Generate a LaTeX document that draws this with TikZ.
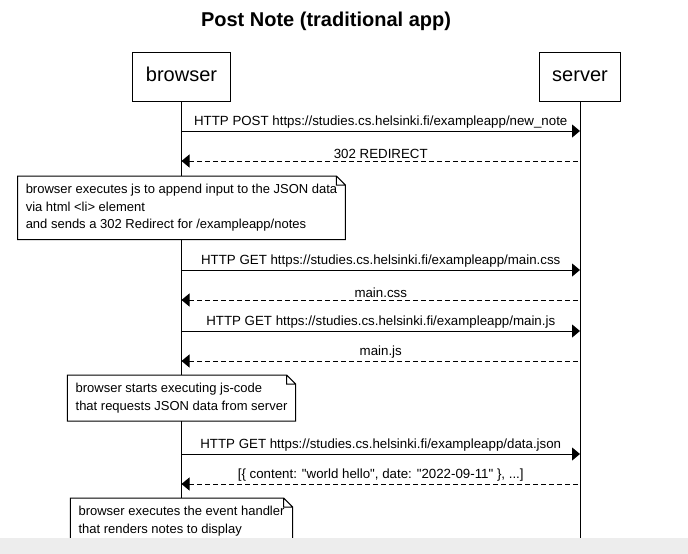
\documentclass[tikz,border=0pt]{standalone}
\usepackage{fontspec}
\setmainfont{Liberation Sans}
\usetikzlibrary{arrows.meta,calc}

\begin{document}
\begin{tikzpicture}[x=1pt,y=-1pt,>={Triangle[length=8pt,width=13pt]},actor/.style={draw,line width=1pt,minimum height=49pt,inner xsep=13pt,text height=15pt,text depth=5pt,font=\fontsize{20}{24}\selectfont},lifeline/.style={line width=1pt},msg/.style={->,line width=1pt},reply/.style={<-,line width=1pt,dash pattern=on 5pt off 3pt},msglabel/.style={midway,above,inner sep=2pt,font=\fontsize{13.3}{16}\selectfont},note/.style={anchor=north,fill=white,align=left,inner xsep=8pt,inner ysep=8pt,font=\fontsize{13}{17.5}\selectfont},notebox/.style={line width=1pt}]
\useasboundingbox (0,0) rectangle (688,554);
\node[font=\bfseries\fontsize{20}{24}\selectfont] (title) at (326,21) {Post Note (traditional app)};
\node[actor] (browser) at (181.5,76.5) {browser}; \node[actor] (server) at (580,76.5) {server};
\draw[lifeline] (browser.south) -- (browser |- 0,538); \draw[lifeline] (server.south) -- (server |- 0,538);
\foreach \y/\sty/\lbl in {131/msg/{HTTP POST https://studies.cs.helsinki.fi/exampleapp/new\_note},161/reply/{302 REDIRECT},270/msg/{HTTP GET https://studies.cs.helsinki.fi/exampleapp/main.css},300/reply/{main.css},331/msg/{HTTP GET https://studies.cs.helsinki.fi/exampleapp/main.js},361/reply/{main.js},454/msg/{HTTP GET https://studies.cs.helsinki.fi/exampleapp/data.json},484/reply/{[\{ content: \textquotedbl world hello\textquotedbl, date: \textquotedbl 2022-09-11\textquotedbl\ \}, ...]}}
  \draw[\sty] (browser |- 0,\y) -- (server |- 0,\y) node[msglabel] {\lbl};
% notes over the browser lifeline
\node[note] (n1) at (browser |- 0,176) {browser executes js to append input to the JSON data\\via html <li> element\\and sends a 302 Redirect for /exampleapp/notes};
\node[note] (n2) at (browser |- 0,375) {browser starts executing js-code\\that requests JSON data from server};
\node[note] (n3) at (browser |- 0,498) {browser executes the event handler\\that renders notes to display};
\foreach \n in {n1,n2,n3}
  \draw[notebox] (\n.north west) -- ($(\n.north east)+(-9,0)$) -- ($(\n.north east)+(0,9)$) -- (\n.south east) -- (\n.south west) -- cycle ($(\n.north east)+(-9,0)$) -- ++(0,9) -- ($(\n.north east)+(0,9)$);
\fill[black!7] (0,538) rectangle (688,554);
\end{tikzpicture}
\end{document}
